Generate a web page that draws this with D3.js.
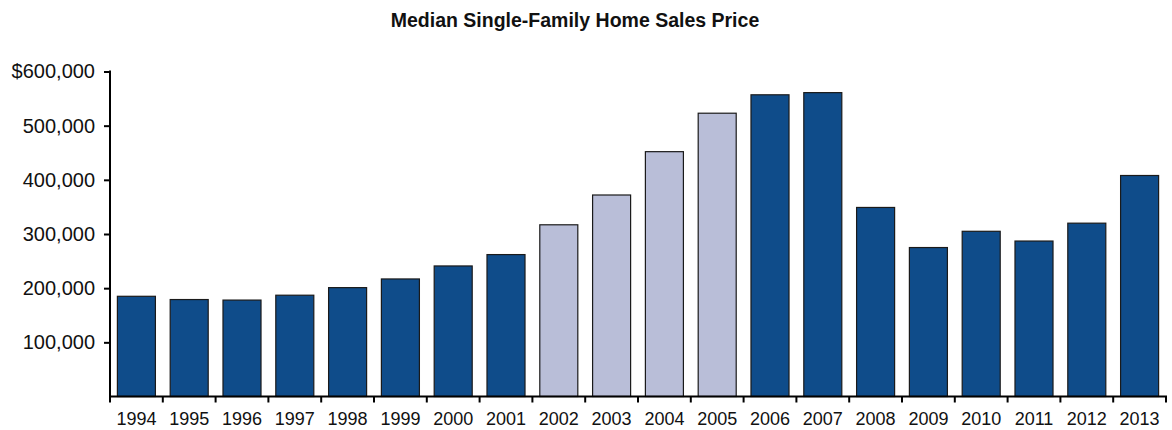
<!DOCTYPE html>
<html>
<head>
<meta charset="utf-8">
<script src="https://cdn.jsdelivr.net/npm/d3@7.9.0/dist/d3.min.js"></script>
<style>
  body { margin: 0; background: #fff; }
  svg text { font-family: "Liberation Sans", Arial, Helvetica, sans-serif; fill: #111; }
</style>
</head>
<body>
<svg id="chart" width="1172" height="430"></svg>
<script>
// data
const years = ['1994', '1995', '1996', '1997', '1998', '1999', '2000', '2001', '2002', '2003',
               '2004', '2005', '2006', '2007', '2008', '2009', '2010', '2011', '2012', '2013'];
const prices = [185000, 179000, 178000, 187000, 201000, 217000, 241000, 262000, 317000, 372000,
                452000, 523000, 557000, 561000, 349000, 275000, 305000, 287000, 320000, 408000];
const highlighted = ['2002', '2003', '2004', '2005'];
const yTicks = [100000, 200000, 300000, 400000, 500000, 600000];

const svg = d3.select('#chart');

const x = d3.scaleBand()
  .domain(years)
  .range([110, 1166])
  .paddingInner(0.28)
  .paddingOuter(0.14);

const y = d3.scaleLinear()
  .domain([0, 600000])
  .range([396.5, 71.5]);

// title
svg.append('text')
  .attr('x', 575)
  .attr('y', 27)
  .attr('text-anchor', 'middle')
  .style('font-size', '19.5px')
  .style('font-weight', 'bold')
  .text('Median Single-Family Home Sales Price');

// bars
svg.selectAll('rect.bar')
  .data(years)
  .join('rect')
  .attr('class', 'bar')
  .attr('x', d => x(d))
  .attr('width', x.bandwidth())
  .attr('y', (d, i) => y(prices[i]))
  .attr('height', (d, i) => y(0) - y(prices[i]))
  .attr('fill', d => highlighted.includes(d) ? '#b9bed8' : '#0f4c8a')
  .attr('stroke', '#1a1a1a')
  .attr('stroke-width', 1.2);

// y axis
const yAxis = svg.append('g')
  .attr('transform', 'translate(110,0)')
  .call(d3.axisLeft(y)
    .tickValues(yTicks)
    .tickSize(6)
    .tickPadding(9)
    .tickFormat(d => (d === 600000 ? '$' : '') + d3.format(',')(d)));
yAxis.select('.domain').remove();
yAxis.selectAll('.tick line').attr('stroke', '#000').attr('stroke-width', 2);
yAxis.selectAll('.tick text').style('font-size', '20px');

svg.append('line')
  .attr('x1', 110).attr('x2', 110)
  .attr('y1', y(600000) - 1).attr('y2', y(0) + 1)
  .attr('stroke', '#000').attr('stroke-width', 2);

// x axis
const xAxis = svg.append('g')
  .attr('transform', `translate(0,${y(0)})`)
  .call(d3.axisBottom(x).tickSize(0).tickPadding(16));
xAxis.select('.domain').remove();
xAxis.selectAll('.tick text').style('font-size', '18px');

svg.append('line')
  .attr('x1', 109).attr('x2', 1167)
  .attr('y1', y(0)).attr('y2', y(0))
  .attr('stroke', '#000').attr('stroke-width', 2);

// tick marks sit on the band boundaries
const bounds = d3.range(years.length + 1).map(i => x.range()[0] + i * x.step());
svg.selectAll('line.xtick')
  .data(bounds)
  .join('line')
  .attr('class', 'xtick')
  .attr('x1', d => d).attr('x2', d => d)
  .attr('y1', y(0)).attr('y2', y(0) + 6)
  .attr('stroke', '#000').attr('stroke-width', 2);
</script>
</body>
</html>
